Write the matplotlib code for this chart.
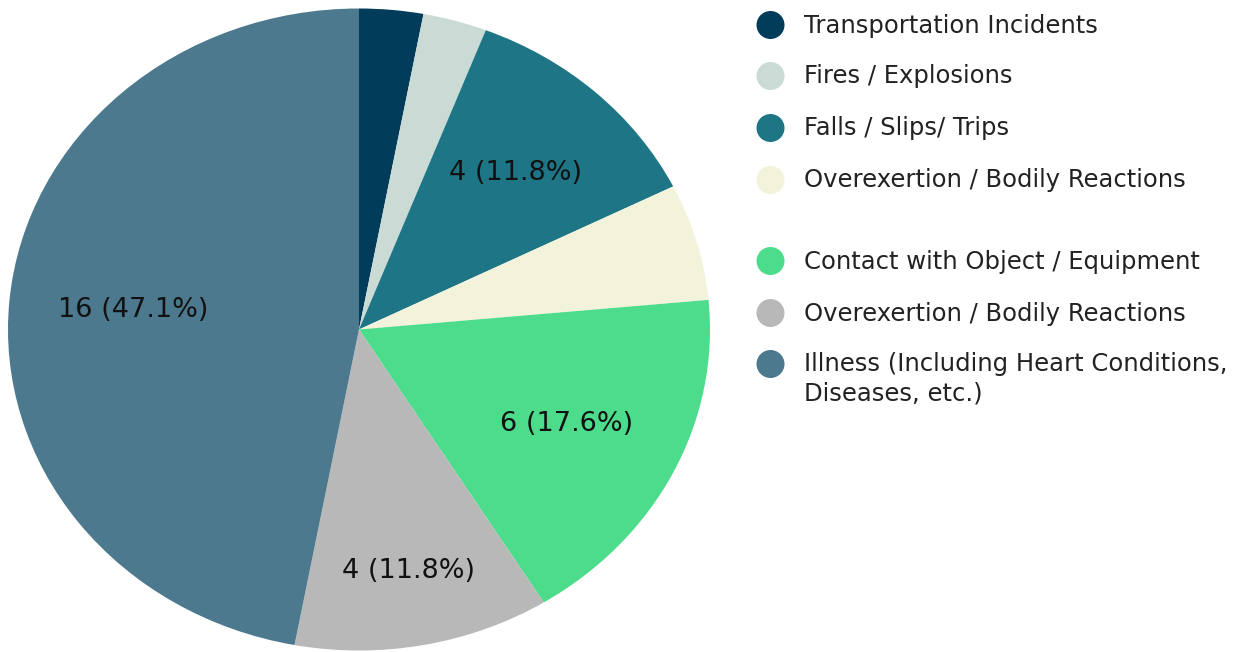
import numpy as np
import matplotlib
matplotlib.use("Agg")
import matplotlib.pyplot as plt
from matplotlib.patches import Ellipse

categories = [
    "Transportation Incidents",
    "Fires / Explosions",
    "Falls / Slips/ Trips",
    "Overexertion / Bodily Reactions",
    "Contact with Object / Equipment",
    "Overexertion / Bodily Reactions",
    "Illness (Including Heart Conditions,\nDiseases, etc.)",
]
values = [1, 1, 4, 2, 6, 4, 16]
colors = ["#013c5a", "#c9dbd4", "#1e7585", "#f3f3dc", "#4cdc8b", "#b8b8b8", "#4c798d"]

# radial position of each in-slice label (fraction of radius)
label_dist = [0.65, 0.65, 0.66, 0.65, 0.66, 0.765, 0.645]

W, H = 1249, 652
fig = plt.figure(figsize=(W / 100, H / 100), dpi=100)
fig.patch.set_facecolor("white")

# pie axes (slightly elliptical as in reference)
cx, cy, rx, ry = 359, 329.5, 351, 321
ax = fig.add_axes([(cx - rx) / W, (H - cy - ry) / H, 2 * rx / W, 2 * ry / H])
total = sum(values)

wedges, _ = ax.pie(
    values, colors=colors, startangle=90, counterclock=False, radius=1,
    wedgeprops=dict(linewidth=0),
)
ax.set_aspect("auto")
ax.set_xlim(-1, 1)
ax.set_ylim(-1, 1)
ax.axis("off")

for w, v, d in zip(wedges, values, label_dist):
    if v < 4:
        continue
    ang = np.deg2rad((w.theta1 + w.theta2) / 2)
    ax.text(d * np.cos(ang), d * np.sin(ang), f"{v} ({100 * v / total:.1f}%)",
            ha="center", va="center", fontsize=19.5, color="#111111",
            family="DejaVu Sans")

# legend overlay in pixel coordinates
lax = fig.add_axes([0, 0, 1, 1])
lax.set_xlim(0, W)
lax.set_ylim(H, 0)
lax.axis("off")
row_y = [25, 76, 128, 180, 261, 313, 364]
for y, lab, col in zip(row_y, categories, colors):
    lax.add_patch(Ellipse((770.5, y), 28, 28, facecolor=col, edgecolor="none"))
    lax.text(804, y - 11.5, lab, fontsize=17.5, color="#222222", family="DejaVu Sans",
             va="top", ha="left", linespacing=1.25)

fig.savefig("out.png", dpi=100, facecolor="white")
